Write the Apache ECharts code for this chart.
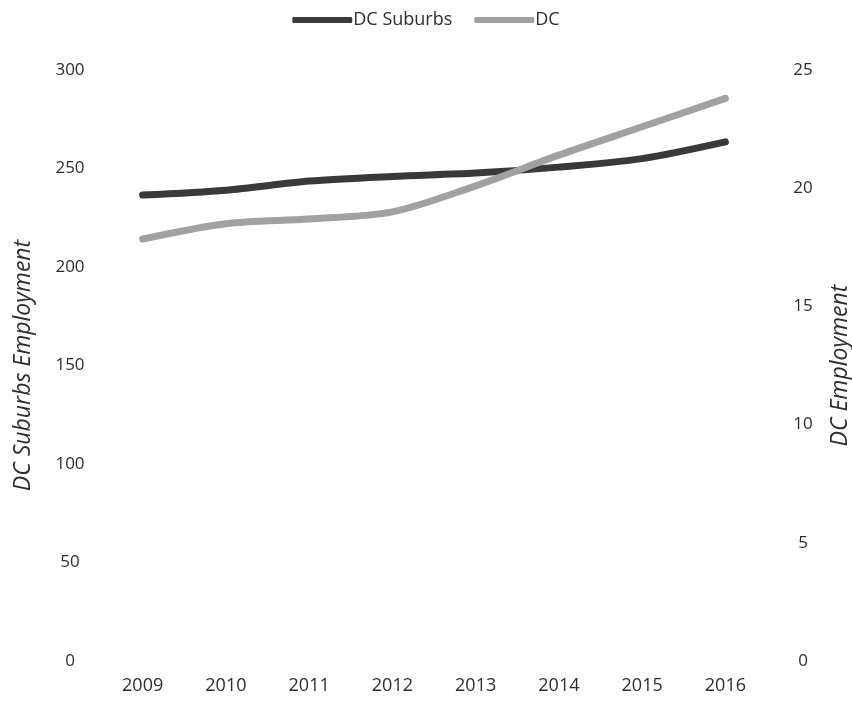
<!DOCTYPE html>
<html>
<head>
<meta charset="utf-8">
<script src="https://cdn.jsdelivr.net/npm/echarts@6/dist/echarts.min.js"></script>
<style>
  html, body { margin: 0; padding: 0; background: #fff; }
  #chart { width: 852px; height: 707px; }
</style>
</head>
<body>
<div id="chart"></div>
<script>
// Employment by year: DC suburbs (left axis) and DC (right axis)
const years = ['2009', '2010', '2011', '2012', '2013', '2014', '2015', '2016'];
const suburbsEmployment = [236.5, 239, 243.6, 246, 247.7, 250.7, 255, 263.5];
const dcEmployment = [17.85, 18.5, 18.7, 19.0, 20.1, 21.4, 22.6, 23.8];
const leftTicks = { min: 0, max: 300, interval: 50 };
const rightTicks = { min: 0, max: 25, interval: 5 };

const FONT = '"Open Sans", "Liberation Sans", sans-serif';
const TEXT = '#2e2e2e';
const DARK = '#393939';
const LIGHT = '#a1a1a1';

const chart = echarts.init(document.getElementById('chart'), null, { renderer: 'canvas' });

const hiddenAxis = {
  axisLine: { show: false },
  axisTick: { show: false },
  splitLine: { show: false }
};

chart.setOption({
  animation: false,
  backgroundColor: '#ffffff',
  legend: {
    top: 6,
    left: 'center',
    itemWidth: 60,
    itemHeight: 6,
    itemGap: 22,
    icon: 'roundRect',
    textStyle: { fontFamily: FONT, fontSize: 18, color: TEXT, padding: [0, 0, 0, -4] },
    data: ['DC Suburbs', 'DC']
  },
  // fixed plot rectangle; axis names may sit near the edges without shrinking it
  grid: { left: 101, right: 85, top: 70, bottom: 46, containLabel: false, outerBoundsMode: 'none' },
  xAxis: {
    type: 'category',
    data: years,
    boundaryGap: true,
    ...hiddenAxis,
    axisLabel: { fontFamily: FONT, fontSize: 18, color: TEXT, margin: 16 }
  },
  yAxis: [
    {
      type: 'value',
      position: 'left',
      min: leftTicks.min, max: leftTicks.max, interval: leftTicks.interval,
      ...hiddenAxis,
      axisLabel: { fontFamily: FONT, fontSize: 17, color: TEXT, align: 'center', margin: 31 },
      name: 'DC Suburbs Employment',
      nameLocation: 'middle',
      nameGap: 66,
      nameTextStyle: { fontFamily: FONT, fontSize: 23, fontStyle: 'italic', color: TEXT }
    },
    {
      type: 'value',
      position: 'right',
      min: rightTicks.min, max: rightTicks.max, interval: rightTicks.interval,
      ...hiddenAxis,
      axisLabel: { fontFamily: FONT, fontSize: 17, color: TEXT, align: 'center', margin: 36 },
      name: 'DC Employment',
      nameLocation: 'middle',
      nameGap: 62,
      nameTextStyle: { fontFamily: FONT, fontSize: 23, fontStyle: 'italic', color: TEXT }
    }
  ],
  series: [
    {
      name: 'DC Suburbs',
      type: 'line',
      yAxisIndex: 0,
      data: suburbsEmployment,
      smooth: 0.3,
      showSymbol: false,
      symbol: 'none',
      color: DARK,
      lineStyle: { width: 7, color: DARK, cap: 'round' }
    },
    {
      name: 'DC',
      type: 'line',
      yAxisIndex: 1,
      data: dcEmployment,
      smooth: 0.3,
      showSymbol: false,
      symbol: 'none',
      color: LIGHT,
      lineStyle: { width: 7, color: LIGHT, cap: 'round' }
    }
  ]
});
</script>
</body>
</html>
